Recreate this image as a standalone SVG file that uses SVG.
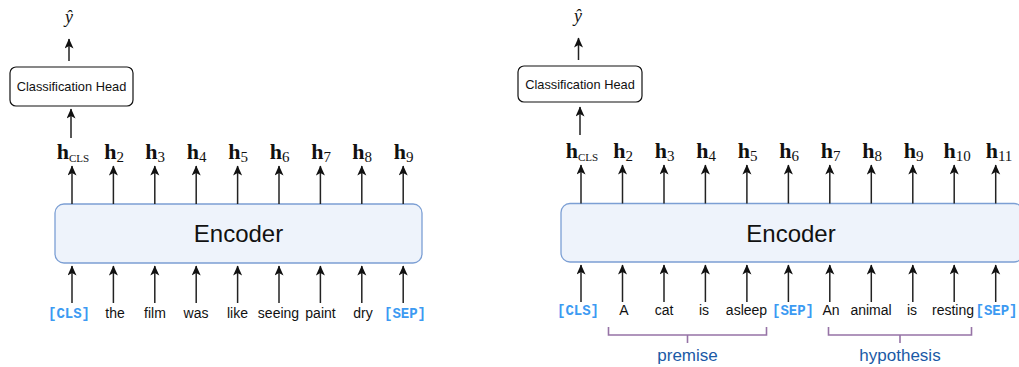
<svg xmlns="http://www.w3.org/2000/svg" width="1019" height="367" viewBox="0 0 1019 367">
  <defs>
    <marker id="ah" markerUnits="userSpaceOnUse" markerWidth="12" markerHeight="12" refX="9.5" refY="4.5" orient="auto">
      <path d="M0,0 L10,4.5 L0,9 L2.5,4.5 z" fill="#111"/>
    </marker>
    <style>
      .enc { fill: #eef3fb; stroke: #7c9fd4; stroke-width: 1.3; }
      .head { fill: #fff; stroke: #111; stroke-width: 1.2; }
      .arr { stroke: #222; stroke-width: 1.5; fill: none; marker-end: url(#ah); }
      .tok { font-family: "Liberation Sans", Arial, sans-serif; font-size: 14px; fill: #111; text-anchor: middle; }
      .spc { font-family: "Liberation Mono", "Courier New", monospace; font-weight: bold; font-size: 14px; fill: #3c9af2; text-anchor: middle; }
      .hl { font-family: "Liberation Serif", "Times New Roman", serif; font-size: 22px; fill: #111; text-anchor: middle; }
      .hb { font-weight: bold; }
      .sub { font-size: 15px; }
      .subs { font-size: 11px; }
      .yh { font-family: "Liberation Serif", "Times New Roman", serif; font-style: italic; font-size: 18px; fill: #111; text-anchor: middle; }
      .lbl { font-family: "Liberation Sans", Arial, sans-serif; font-size: 12.8px; fill: #111; text-anchor: middle; }
      .big { font-family: "Liberation Sans", Arial, sans-serif; font-size: 24px; fill: #111; text-anchor: middle; }
      .brk { stroke: #9673a6; stroke-width: 1.6; fill: none; }
      .grp { font-family: "Liberation Sans", Arial, sans-serif; font-size: 17px; fill: #1a5aa6; text-anchor: middle; }
    </style>
  </defs>

  <!-- ===== Single-sentence classification ===== -->
  <g id="left-yhat"><text class="yh" x="69" y="23">ŷ</text></g>
  <g id="left-head">
    <rect class="head" x="10" y="67" width="123" height="39" rx="6"/>
    <text class="lbl" x="71.5" y="91">Classification Head</text>
  </g>
  <g id="left-encoder">
    <rect class="enc" x="55" y="204" width="367" height="59" rx="9"/>
    <text class="big" x="238.5" y="242">Encoder</text>
  </g>
  <g id="left-hidden">
    <text class="hl" x="73" y="159"><tspan class="hb">h</tspan><tspan class="subs" dy="3">CLS</tspan></text>
    <text class="hl" x="114" y="159"><tspan class="hb">h</tspan><tspan class="sub" dy="3">2</tspan></text>
    <text class="hl" x="155" y="159"><tspan class="hb">h</tspan><tspan class="sub" dy="3">3</tspan></text>
    <text class="hl" x="196.5" y="159"><tspan class="hb">h</tspan><tspan class="sub" dy="3">4</tspan></text>
    <text class="hl" x="238" y="159"><tspan class="hb">h</tspan><tspan class="sub" dy="3">5</tspan></text>
    <text class="hl" x="279.5" y="159"><tspan class="hb">h</tspan><tspan class="sub" dy="3">6</tspan></text>
    <text class="hl" x="321" y="159"><tspan class="hb">h</tspan><tspan class="sub" dy="3">7</tspan></text>
    <text class="hl" x="362" y="159"><tspan class="hb">h</tspan><tspan class="sub" dy="3">8</tspan></text>
    <text class="hl" x="403.5" y="159"><tspan class="hb">h</tspan><tspan class="sub" dy="3">9</tspan></text>
  </g>
  <g id="left-tokens">
    <text class="spc" x="69" y="318">[CLS]</text>
    <text class="tok" x="115" y="318">the</text>
    <text class="tok" x="155" y="318">film</text>
    <text class="tok" x="196" y="318">was</text>
    <text class="tok" x="237.5" y="318">like</text>
    <text class="tok" x="278.5" y="318">seeing</text>
    <text class="tok" x="320.5" y="318">paint</text>
    <text class="tok" x="363" y="318">dry</text>
    <text class="spc" x="405" y="318">[SEP]</text>
  </g>

  <!-- ===== Sentence-pair classification ===== -->
  <g id="right-yhat"><text class="yh" x="578" y="22">ŷ</text></g>
  <g id="right-head">
    <rect class="head" x="518" y="66" width="124" height="36" rx="6"/>
    <text class="lbl" x="580" y="88.5">Classification Head</text>
  </g>
  <g id="right-encoder">
    <rect class="enc" x="561" y="203.5" width="462" height="58.5" rx="9"/>
    <text class="big" x="791" y="241.5">Encoder</text>
  </g>
  <g id="right-hidden">
    <text class="hl" x="582" y="158"><tspan class="hb">h</tspan><tspan class="subs" dy="3">CLS</tspan></text>
    <text class="hl" x="623" y="158"><tspan class="hb">h</tspan><tspan class="sub" dy="3">2</tspan></text>
    <text class="hl" x="664.5" y="158"><tspan class="hb">h</tspan><tspan class="sub" dy="3">3</tspan></text>
    <text class="hl" x="706" y="158"><tspan class="hb">h</tspan><tspan class="sub" dy="3">4</tspan></text>
    <text class="hl" x="747.5" y="158"><tspan class="hb">h</tspan><tspan class="sub" dy="3">5</tspan></text>
    <text class="hl" x="789" y="158"><tspan class="hb">h</tspan><tspan class="sub" dy="3">6</tspan></text>
    <text class="hl" x="830.5" y="158"><tspan class="hb">h</tspan><tspan class="sub" dy="3">7</tspan></text>
    <text class="hl" x="872" y="158"><tspan class="hb">h</tspan><tspan class="sub" dy="3">8</tspan></text>
    <text class="hl" x="913.5" y="158"><tspan class="hb">h</tspan><tspan class="sub" dy="3">9</tspan></text>
    <text class="hl" x="957" y="158"><tspan class="hb">h</tspan><tspan class="sub" dy="3">10</tspan></text>
    <text class="hl" x="999" y="158"><tspan class="hb">h</tspan><tspan class="sub" dy="3">11</tspan></text>
  </g>
  <g id="right-tokens">
    <text class="spc" x="578" y="315">[CLS]</text>
    <text class="tok" x="624" y="315">A</text>
    <text class="tok" x="664" y="315">cat</text>
    <text class="tok" x="704" y="315">is</text>
    <text class="tok" x="746.5" y="315">asleep</text>
    <text class="spc" x="793" y="315">[SEP]</text>
    <text class="tok" x="831" y="315">An</text>
    <text class="tok" x="871" y="315">animal</text>
    <text class="tok" x="912" y="315">is</text>
    <text class="tok" x="953" y="315">resting</text>
    <text class="spc" x="996.5" y="315">[SEP]</text>
  </g>
  <g id="premise">
    <path class="brk" d="M608.5,327 V335 H766.5 V327 M687.5,335 V343"/>
    <text class="grp" x="687.5" y="361">premise</text>
  </g>
  <g id="hypothesis">
    <path class="brk" d="M828.5,327 V335 H971.5 V327 M900,335 V343"/>
    <text class="grp" x="900" y="361">hypothesis</text>
  </g>

  <!-- connectors -->
  <g id="connectors">
    <!-- left: output and head -->
    <line class="arr" x1="69" y1="61" x2="69" y2="39"/>
    <line class="arr" x1="71" y1="138" x2="71" y2="109"/>
    <!-- left: encoder outputs -->
    <line class="arr" x1="72" y1="204" x2="72" y2="166"/>
    <line class="arr" x1="113.4" y1="204" x2="113.4" y2="166"/>
    <line class="arr" x1="154.8" y1="204" x2="154.8" y2="166"/>
    <line class="arr" x1="196.2" y1="204" x2="196.2" y2="166"/>
    <line class="arr" x1="237.6" y1="204" x2="237.6" y2="166"/>
    <line class="arr" x1="279" y1="204" x2="279" y2="166"/>
    <line class="arr" x1="320.4" y1="204" x2="320.4" y2="166"/>
    <line class="arr" x1="361.8" y1="204" x2="361.8" y2="166"/>
    <line class="arr" x1="403.2" y1="204" x2="403.2" y2="166"/>
    <!-- left: token inputs -->
    <line class="arr" x1="72" y1="303" x2="72" y2="266"/>
    <line class="arr" x1="113.4" y1="303" x2="113.4" y2="266"/>
    <line class="arr" x1="154.8" y1="303" x2="154.8" y2="266"/>
    <line class="arr" x1="196.2" y1="303" x2="196.2" y2="266"/>
    <line class="arr" x1="237.6" y1="303" x2="237.6" y2="266"/>
    <line class="arr" x1="279" y1="303" x2="279" y2="266"/>
    <line class="arr" x1="320.4" y1="303" x2="320.4" y2="266"/>
    <line class="arr" x1="361.8" y1="303" x2="361.8" y2="266"/>
    <line class="arr" x1="403.2" y1="303" x2="403.2" y2="266"/>

    <!-- right: output and head -->
    <line class="arr" x1="578.5" y1="60" x2="578.5" y2="38"/>
    <line class="arr" x1="580" y1="135" x2="580" y2="107"/>
    <!-- right: encoder outputs -->
    <line class="arr" x1="581" y1="203.5" x2="581" y2="165"/>
    <line class="arr" x1="622.5" y1="203.5" x2="622.5" y2="165"/>
    <line class="arr" x1="664" y1="203.5" x2="664" y2="165"/>
    <line class="arr" x1="705.4" y1="203.5" x2="705.4" y2="165"/>
    <line class="arr" x1="746.9" y1="203.5" x2="746.9" y2="165"/>
    <line class="arr" x1="788.4" y1="203.5" x2="788.4" y2="165"/>
    <line class="arr" x1="829.8" y1="203.5" x2="829.8" y2="165"/>
    <line class="arr" x1="871.3" y1="203.5" x2="871.3" y2="165"/>
    <line class="arr" x1="912.8" y1="203.5" x2="912.8" y2="165"/>
    <line class="arr" x1="954.2" y1="203.5" x2="954.2" y2="165"/>
    <line class="arr" x1="995.7" y1="203.5" x2="995.7" y2="165"/>
    <!-- right: token inputs -->
    <line class="arr" x1="581" y1="302" x2="581" y2="265"/>
    <line class="arr" x1="622.5" y1="302" x2="622.5" y2="265"/>
    <line class="arr" x1="664" y1="302" x2="664" y2="265"/>
    <line class="arr" x1="705.4" y1="302" x2="705.4" y2="265"/>
    <line class="arr" x1="746.9" y1="302" x2="746.9" y2="265"/>
    <line class="arr" x1="788.4" y1="302" x2="788.4" y2="265"/>
    <line class="arr" x1="829.8" y1="302" x2="829.8" y2="265"/>
    <line class="arr" x1="871.3" y1="302" x2="871.3" y2="265"/>
    <line class="arr" x1="912.8" y1="302" x2="912.8" y2="265"/>
    <line class="arr" x1="954.2" y1="302" x2="954.2" y2="265"/>
    <line class="arr" x1="995.7" y1="302" x2="995.7" y2="265"/>
  </g>
</svg>
